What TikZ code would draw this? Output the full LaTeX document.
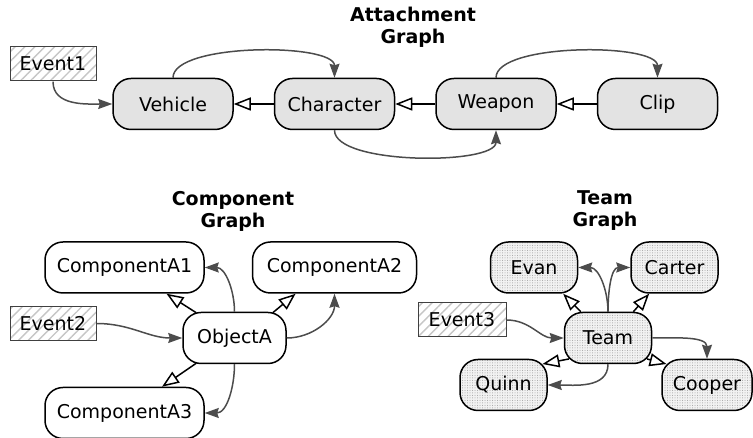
\documentclass[tikz,border=0pt]{standalone}
\usepackage{fontspec}
\setmainfont{DejaVu Sans}
\usetikzlibrary{arrows.meta, positioning, patterns.meta}

\begin{document}
\begin{tikzpicture}[x=1pt, y=1pt,
  box/.style={rectangle, rounded corners=18pt, draw=black, line width=1.5pt,
              minimum height=51pt, inner sep=2pt,
              font=\fontsize{19}{22}\selectfont},
  attach/.style={box, fill=gray!22, minimum width=120pt},
  comp/.style={box, fill=white, minimum width=159pt},
  member/.style={box, minimum width=87pt, preaction={fill=gray!10},
                 pattern={Dots[distance=2.5pt,radius=0.5pt]}, pattern color=gray!75},
  event/.style={rectangle, draw=black!75, line width=1pt,
                minimum width=86pt, minimum height=34pt, preaction={fill=white},
                pattern={Lines[angle=45,distance=7pt,line width=1.4pt]},
                pattern color=gray!45, font=\fontsize{19}{22}\selectfont},
  heading/.style={align=center, font=\bfseries\fontsize{19}{22}\selectfont},
  link/.style={-{Stealth[length=14pt,width=10pt,inset=1.5pt]}, line width=1.5pt, draw=black!70},
  inherit/.style={-{Triangle[open,length=17pt,width=13pt]}, line width=1.5pt, draw=black}
]
  \useasboundingbox (0,0) rectangle (753,438);

  % Attachment graph
  \node[heading] (attTitle) at (413,411) {Attachment\\Graph};
  \node[attach] (vehicle) at (173,334) {Vehicle};
  \node[attach, right=40pt of vehicle] (character) {Character};
  \node[attach, right=40pt of character] (weapon) {Weapon};
  \node[attach, right=40pt of weapon] (clip) {Clip};
  \node[event] (event1) at (53,374) {Event1};

  \draw[inherit] (character) -- (vehicle);
  \draw[inherit] (weapon) -- (character);
  \draw[inherit] (clip) -- (weapon);
  \draw[link] (vehicle.north) .. controls +(0,35) and +(0,35) .. (character.north);
  \draw[link] (character.south) .. controls +(0,-35) and +(0,-35) .. (weapon.south);
  \draw[link] (weapon.north) .. controls +(0,35) and +(0,35) .. (clip.north);
  \draw[link] (event1.south) to[out=-90, in=180] (vehicle.west);

  % Component graph
  \node[heading] (compTitle) at (233,227) {Component\\Graph};
  \node[comp] (compA1) at (124.5,170.5) {ComponentA1};
  \node[comp, minimum width=164pt] (compA2) at (334.5,170.5) {ComponentA2};
  \node[box, minimum width=103pt] (objA) at (234.5,100) {ObjectA};
  \node[comp] (compA3) at (124.5,25) {ComponentA3};
  \node[event] (event2) at (53,114.5) {Event2};

  \draw[inherit] ([shift={(14,-1)}]objA.north west) -- (compA1.-32);
  \draw[inherit] ([shift={(-14,-1)}]objA.north east) -- (compA2.214);
  \draw[inherit] ([shift={(14,1)}]objA.south west) -- (compA3.35);
  \draw[link] (objA.north) to[out=90, in=0] (compA1.east);
  \draw[link] (objA.east) to[out=0, in=-90] (compA2.south);
  \draw[link] (objA.south) to[out=-90, in=0] (compA3.east);
  \draw[link] (event2.east) to[out=0, in=180] (objA.west);

  % Team graph
  \node[heading] (teamTitle) at (605,227) {Team\\Graph};
  \node[member] (evan) at (534,170.5) {Evan};
  \node[member] (carter) at (674.5,170.5) {Carter};
  \node[member] (team) at (608,100) {Team};
  \node[member] (quinn) at (503.5,53) {Quinn};
  \node[member, minimum width=90pt] (cooper) at (707,53) {Cooper};
  \node[event, minimum width=88pt] (event3) at (462,118) {Event3};

  \draw[inherit] (team.136) -- (evan.-42);
  \draw[inherit] (team.46) -- (carter.-134);
  \draw[inherit] ([shift={(5.3,5.3)}]team.south west) -- ([shift={(-5.3,-5.3)}]quinn.north east);
  \draw[inherit] ([shift={(-5.3,5.3)}]team.south east) -- ([shift={(5.3,-5.3)}]cooper.north west);
  \draw[link] (team.north) to[out=90, in=0] (evan.east);
  \draw[link] (team.north) to[out=90, in=180] (carter.west);
  \draw[link] (team.east) to[out=0, in=90] (cooper.north);
  \draw[link] (team.south) to[out=-90, in=0] (quinn.east);
  \draw[link] (event3.east) to[out=0, in=180] (team.west);
\end{tikzpicture}
\end{document}
